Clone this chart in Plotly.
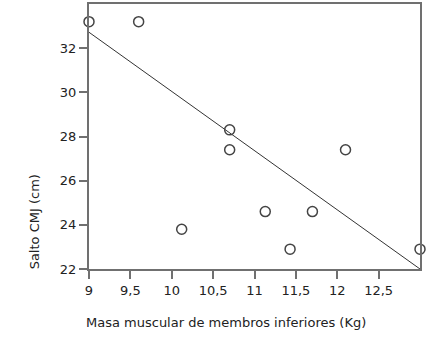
import plotly.graph_objects as go

# Lower-limb muscle mass (kg) vs. CMJ jump height (cm)
masa_kg = [9.0, 9.6, 10.12, 10.7, 10.7, 11.13, 11.7, 11.43, 12.1, 13.0]
salto_cm = [33.2, 33.2, 23.8, 28.3, 27.4, 24.6, 24.6, 22.9, 27.4, 22.9]

# Fitted trend line endpoints
fit_x = [9.0, 13.0]
fit_y = [32.72, 22.0]

x_ticks = [9, 9.5, 10, 10.5, 11, 11.5, 12, 12.5]
x_tick_text = ["9", "9,5", "10", "10,5", "11", "11,5", "12", "12,5"]
y_ticks = [22, 24, 26, 28, 30, 32]
y_tick_text = ["22", "24", "26", "28", "30", "32"]

axis_grey = "#707070"
font_family = "Verdana, DejaVu Sans, sans-serif"

fig = go.Figure()
fig.add_trace(go.Scatter(
    x=fit_x, y=fit_y, mode="lines",
    line=dict(color="#333333", width=1),
    hoverinfo="skip", showlegend=False,
))
fig.add_trace(go.Scatter(
    x=masa_kg, y=salto_cm, mode="markers",
    marker=dict(symbol="circle-open", size=10, color="#444444",
                line=dict(width=1.5, color="#444444")),
    showlegend=False, cliponaxis=False,
))

axis_common = dict(
    showline=True, linecolor=axis_grey, linewidth=2, mirror=True,
    showgrid=False, zeroline=False,
    ticks="outside", ticklen=8, tickwidth=2, tickcolor=axis_grey,
    tickfont=dict(family=font_family, size=13, color="#222222"),
)

fig.update_layout(
    width=441, height=340,
    margin=dict(l=89, r=21, t=2, b=71),
    paper_bgcolor="white", plot_bgcolor="white",
    font=dict(family=font_family, size=13, color="#222222"),
    xaxis=dict(range=[9, 13], tickvals=x_ticks, ticktext=x_tick_text, **axis_common),
    yaxis=dict(range=[22, 34], tickvals=y_ticks, ticktext=y_tick_text, **axis_common),
    annotations=[
        dict(text="Masa muscular de membros inferiores (Kg)",
             xref="paper", yref="paper", x=(226 - 89) / 331, y=-(323 - 269) / 267,
             xanchor="center", yanchor="middle", showarrow=False,
             font=dict(size=13)),
        dict(text="Salto CMJ (cm)", textangle=-90,
             xref="paper", yref="paper", x=-(89 - 34) / 331, y=(269 - 222) / 267,
             xanchor="center", yanchor="middle", showarrow=False,
             font=dict(size=13)),
    ],
)

fig.write_html("out.html")
